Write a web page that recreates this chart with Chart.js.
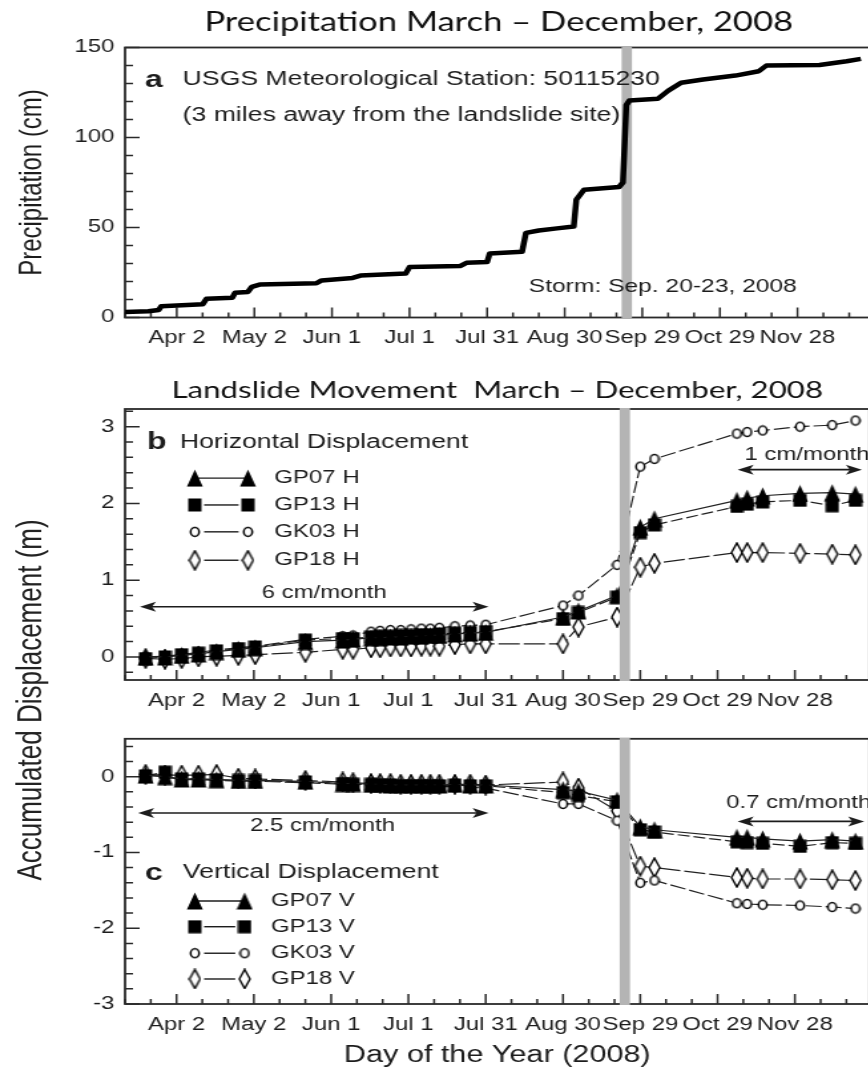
<!DOCTYPE html>
<html lang="en">
<head>
<meta charset="UTF-8" />
<title>Precipitation and landslide movement, 2008</title>
<style>
  html, body { margin: 0; padding: 0; background: #fff; overflow: hidden; width: 868px; height: 1069px; }
  /* the source figure is stretched sideways, so draw narrow and widen the whole stage */
  #stage { position: absolute; left: 0; top: 0; width: 660px; height: 1069px; transform: scaleX(1.33); transform-origin: 0 0; }
  #stage canvas { position: absolute; left: 0; }
  #ylabel { position: absolute; left: -177px; top: 684px; width: 400px; height: 32px; line-height: 32px;
            text-align: center; transform: rotate(-90deg); white-space: nowrap;
            font: 26px 'Liberation Sans', Arial, sans-serif; color: #222; }
</style>
<script src="https://cdn.jsdelivr.net/npm/chart.js@4.4.1/dist/chart.umd.min.js"></script>
</head>
<body>
<div id="stage">
  <canvas id="precipChart" width="660" height="360" style="top:0"></canvas>
  <canvas id="horizChart" width="660" height="360" style="top:360px"></canvas>
  <canvas id="vertChart" width="660" height="349" style="top:720px"></canvas>
  <div id="ylabel">Accumulated Displacement (m)</div>
</div>
<script>
// day of year 2008 for the labelled ticks
const tickDays = [93, 123, 153, 183, 213, 243, 273, 303, 333];
const tickLabels = ['Apr 2', 'May 2', 'Jun 1', 'Jul 1', 'Jul 31', 'Aug 30', 'Sep 29', 'Oct 29', 'Nov 28'];
const stormDays = [265, 269];

// cumulative precipitation (cm)
const rainDays = [73, 82, 86, 87, 103, 104.5, 114.5, 115.5, 120.5, 122, 125, 147, 149, 161, 164, 181.5, 183, 202.5, 205, 213,
  214, 226.5, 228, 233, 240, 246.5, 247.5, 250.5, 264, 265.5, 266.8, 268, 279, 283, 288, 296.5, 309, 318, 321, 341.5, 352, 357.5];
const rainTotal = [3, 3.5, 4.2, 6.3, 7.3, 10.4, 11, 13.7, 14.2, 17, 18.3, 19, 20.6, 22, 23.3, 24.4, 28, 28.6, 30.4, 30.8,
  35.6, 36.5, 47, 48.3, 49.5, 50.5, 65.5, 71, 72.5, 75, 118, 120.5, 121.5, 126, 130.4, 132.2, 134.4, 136.8, 140, 140.3, 142.4, 143.7];

// GPS survey days
const gpsDays = [81, 88.5, 95, 101.5, 108.5, 117, 123.5, 143, 157.5, 161.5, 168.5, 172, 176, 180, 184, 188, 191.5, 195, 201, 207, 213,
  243, 249, 264, 273, 278.5, 310.5, 314.5, 320.5, 335, 347.5, 356.5];

// horizontal displacement (m)
const gp07H = [0.0, 0.0, 0.02, 0.04, 0.07, 0.1, 0.12, 0.2, 0.22, 0.23, 0.25, 0.25, 0.26, 0.26, 0.27, 0.27, 0.28, 0.28, 0.3, 0.31, 0.32,
  0.52, 0.60, 0.80, 1.69, 1.80, 2.04, 2.07, 2.10, 2.13, 2.14, 2.12];
const gp13H = [-0.02, 0.0, 0.03, 0.05, 0.08, 0.11, 0.13, 0.22, 0.24, 0.24, 0.26, 0.27, 0.27, 0.28, 0.28, 0.29, 0.29, 0.3, 0.31, 0.32, 0.33,
  0.50, 0.58, 0.78, 1.62, 1.72, 1.96, 1.99, 2.02, 2.04, 1.97, 2.04];
const gk03H = [0.0, 0.01, 0.03, 0.06, 0.09, 0.12, 0.14, 0.23, 0.27, 0.28, 0.33, 0.34, 0.35, 0.35, 0.36, 0.37, 0.37, 0.38, 0.40, 0.41, 0.42,
  0.67, 0.80, 1.20, 2.48, 2.58, 2.91, 2.93, 2.95, 3.00, 3.02, 3.08];
const gp18H = [-0.02, -0.03, -0.02, 0.0, 0.01, 0.02, 0.03, 0.06, 0.10, 0.10, 0.12, 0.12, 0.13, 0.13, 0.13, 0.14, 0.14, 0.14, 0.16, 0.17, 0.17,
  0.17, 0.39, 0.52, 1.17, 1.22, 1.36, 1.36, 1.36, 1.35, 1.34, 1.33];

// vertical displacement (m)
const gp07V = [0.02, 0.0, -0.03, -0.03, -0.04, -0.05, -0.05, -0.06, -0.09, -0.09, -0.1, -0.1, -0.11, -0.11, -0.11, -0.11, -0.11, -0.11, -0.1, -0.11, -0.11,
  -0.17, -0.19, -0.31, -0.66, -0.70, -0.80, -0.80, -0.82, -0.85, -0.83, -0.85];
const gp13V = [0.01, 0.06, -0.03, -0.03, -0.04, -0.05, -0.05, -0.07, -0.09, -0.1, -0.1, -0.11, -0.11, -0.12, -0.12, -0.12, -0.12, -0.12, -0.11, -0.12, -0.12,
  -0.21, -0.25, -0.33, -0.70, -0.73, -0.86, -0.87, -0.88, -0.92, -0.87, -0.88];
const gk03V = [0.02, 0.0, -0.04, -0.04, -0.05, -0.06, -0.06, -0.08, -0.1, -0.1, -0.11, -0.12, -0.12, -0.12, -0.13, -0.13, -0.13, -0.13, -0.13, -0.14, -0.15,
  -0.36, -0.36, -0.58, -1.40, -1.37, -1.67, -1.68, -1.69, -1.70, -1.72, -1.74];
const gp18V = [0.03, 0.02, 0.02, 0.02, 0.03, -0.02, -0.03, -0.05, -0.07, -0.08, -0.09, -0.09, -0.09, -0.1, -0.1, -0.1, -0.1, -0.1, -0.1, -0.1, -0.11,
  -0.07, -0.15, -0.45, -1.18, -1.20, -1.33, -1.34, -1.35, -1.35, -1.36, -1.37];

const sans = "'Liberation Sans', Arial, sans-serif";
const ink = '#1c1c1c';

Chart.defaults.color = ink;
Chart.defaults.font.family = sans;
Chart.defaults.animation = false;

// marker images (tall shapes, the stage stretch widens them)
function marker(kind) {
  const c = document.createElement('canvas');
  const g = c.getContext('2d');
  g.strokeStyle = '#111';
  if (kind === 'triangle') {
    c.width = 13; c.height = 18;
    g.fillStyle = '#000';
    g.beginPath(); g.moveTo(6.5, 0.5); g.lineTo(12.5, 17.5); g.lineTo(0.5, 17.5); g.closePath(); g.fill();
  } else if (kind === 'square') {
    c.width = 11; c.height = 14;
    g.fillStyle = '#000';
    g.fillRect(0.5, 0.5, 10, 13);
  } else if (kind === 'circle') {
    c.width = 9; c.height = 12;
    g.fillStyle = '#fff'; g.lineWidth = 1.5;
    g.beginPath(); g.ellipse(4.5, 6, 3.2, 4.4, 0, 0, Math.PI * 2); g.fill(); g.stroke();
  } else {
    c.width = 10; c.height = 21;
    g.fillStyle = '#fff'; g.lineWidth = 1.4;
    g.beginPath(); g.moveTo(5, 1); g.lineTo(9, 10.5); g.lineTo(5, 20); g.lineTo(1, 10.5); g.closePath(); g.fill(); g.stroke();
  }
  return c;
}
const shapes = { triangle: marker('triangle'), square: marker('square'), circle: marker('circle'), diamond: marker('diamond') };

function series(label, vals, shape, dash) {
  return {
    label: label,
    data: gpsDays.map((d, i) => ({ x: d, y: vals[i] })),
    borderColor: '#222',
    borderWidth: 1.2,
    borderDash: dash,
    pointStyle: shapes[shape],
    pointRadius: 5,
    pointHoverRadius: 5,
    tension: 0
  };
}

function dayAxis(height, title) {
  return {
    type: 'linear', min: 73, max: 362,
    grid: { display: false, drawTicks: false },
    border: { display: false },
    afterBuildTicks: s => {
      s.ticks = [];
      for (let d = 73; d <= 362; d += 10) s.ticks.push({ value: d });
    },
    ticks: {
      autoSkip: false, maxRotation: 0, padding: 10, color: ink,
      font: { family: sans, size: 18 },
      callback: v => { const i = tickDays.indexOf(v); return i >= 0 ? tickLabels[i] : ''; }
    },
    title: title
      ? { display: true, text: title, color: ink, font: { family: sans, size: 23 }, padding: { top: 0, bottom: 0 } }
      : { display: false },
    afterFit: s => { s.height = height; }
  };
}

function valueAxis(min, max, step, major, title) {
  return {
    type: 'linear', min: min, max: max,
    grid: { display: false, drawTicks: false },
    border: { display: false },
    afterBuildTicks: s => {
      s.ticks = [];
      for (let k = Math.ceil(min / step - 1e-6); k * step <= max + 1e-6; k++) s.ticks.push({ value: +(k * step).toFixed(2) });
    },
    ticks: {
      autoSkip: false, padding: 8, color: ink,
      font: { family: sans, size: 18 },
      callback: v => Math.abs(v / major - Math.round(v / major)) < 1e-6 ? String(Math.round(v)) : ''
    },
    title: title
      ? { display: true, text: title, color: ink, font: { family: sans, size: 24 }, padding: { top: 10, bottom: 0 } }
      : { display: false },
    afterFit: s => { s.width = 94; }
  };
}

function drawStorm(chart) {
  const { ctx, chartArea: a, scales: { x } } = chart;
  const x1 = x.getPixelForValue(stormDays[0]);
  const x2 = x.getPixelForValue(stormDays[1]);
  ctx.save();
  ctx.fillStyle = '#b4b4b4';
  ctx.fillRect(x1, a.top - 1, x2 - x1, a.bottom - a.top + 2);
  ctx.restore();
}

// box round the plot, inward ticks, storm band
const framePlugin = {
  id: 'frame',
  beforeDatasetsDraw(chart, args, opts) {
    const { ctx, chartArea: a, scales: { x, y } } = chart;
    ctx.save();
    ctx.strokeStyle = '#2a2a2a';
    ctx.lineWidth = 1.8;
    ctx.strokeRect(a.left, a.top, a.right - a.left, a.bottom - a.top);
    ctx.lineWidth = 1.5;
    ctx.beginPath();
    x.ticks.forEach(t => {
      const px = x.getPixelForValue(t.value);
      ctx.moveTo(px, a.bottom);
      ctx.lineTo(px, a.bottom - (t.label ? 10 : 5));
    });
    y.ticks.forEach(t => {
      const py = y.getPixelForValue(t.value);
      ctx.moveTo(a.left, py);
      ctx.lineTo(a.left + (t.label ? 11 : 6), py);
    });
    ctx.stroke();
    ctx.restore();
    if (opts.bandUnder) drawStorm(chart);
  },
  afterDatasetsDraw(chart, args, opts) {
    if (!opts.bandUnder) drawStorm(chart);
  }
};

// panel letters, notes, rate arrows and the marker legend
const notesPlugin = {
  id: 'notes',
  afterDraw(chart, args, opts) {
    const { ctx, scales: { x, y } } = chart;
    ctx.save();
    ctx.fillStyle = ink;
    ctx.strokeStyle = ink;
    ctx.textBaseline = 'middle';
    (opts.texts || []).forEach(t => {
      ctx.font = `${t.weight || 'normal'} ${t.size}px ${sans}`;
      ctx.textAlign = t.align || 'left';
      ctx.fillText(t.text, x.getPixelForValue(t.x), y.getPixelForValue(t.y));
    });
    (opts.arrows || []).forEach(r => {
      const x1 = x.getPixelForValue(r.x1), x2 = x.getPixelForValue(r.x2), py = y.getPixelForValue(r.y);
      ctx.lineWidth = 1.6;
      ctx.beginPath(); ctx.moveTo(x1 + 4, py); ctx.lineTo(x2 - 4, py); ctx.stroke();
      [[x1, 1], [x2, -1]].forEach(([hx, dir]) => {
        ctx.beginPath();
        ctx.moveTo(hx, py);
        ctx.lineTo(hx + dir * 12, py - 5);
        ctx.lineTo(hx + dir * 9, py);
        ctx.lineTo(hx + dir * 12, py + 5);
        ctx.closePath();
        ctx.fill();
      });
    });
    const lg = opts.legend;
    if (lg) {
      ctx.font = `${lg.size}px ${sans}`;
      ctx.textAlign = 'left';
      chart.data.datasets.forEach((ds, i) => {
        const py = y.getPixelForValue(lg.rows[i]);
        const x1 = x.getPixelForValue(lg.x1), x2 = x.getPixelForValue(lg.x2);
        const gap = i === 0 ? 0 : 7;
        ctx.lineWidth = 1.4;
        ctx.beginPath(); ctx.moveTo(x1 + gap, py); ctx.lineTo(x2 - gap, py); ctx.stroke();
        [x1, x2].forEach(px => {
          const img = ds.pointStyle;
          ctx.drawImage(img, px - img.width / 2, py - img.height / 2);
        });
        ctx.fillText(ds.label, x.getPixelForValue(lg.xText), py);
      });
    }
    ctx.restore();
  }
};

// a: precipitation
new Chart(document.getElementById('precipChart'), {
  type: 'line',
  data: {
    datasets: [{
      label: 'Precipitation',
      data: rainDays.map((d, i) => ({ x: d, y: rainTotal[i] })),
      borderColor: '#000',
      borderWidth: 4.5,
      borderJoinStyle: 'round',
      pointRadius: 0,
      tension: 0
    }]
  },
  options: {
    responsive: false,
    layout: { padding: { top: 0, left: 0, right: 4, bottom: 0 } },
    scales: {
      x: dayAxis(42.5),
      y: valueAxis(0, 150, 10, 50, 'Precipitation (cm)')
    },
    plugins: {
      legend: { display: false },
      tooltip: { enabled: false },
      title: {
        display: true, fullSize: false, text: 'Precipitation March \u2013 December, 2008', color: '#111',
        font: { family: 'Lato', size: 26, weight: 'normal' }, padding: { top: 7, bottom: 9.3 }
      },
      frame: { bandUnder: true },
      notes: {
        texts: [
          { x: 80.7, y: 132, text: 'a', size: 24, weight: 'bold' },
          { x: 95.3, y: 132, text: 'USGS Meteorological Station: 50115230', size: 20 },
          { x: 95.3, y: 112.5, text: '(3 miles away from the landslide site)', size: 20 },
          { x: 229.1, y: 17.1, text: 'Storm: Sep. 20-23, 2008', size: 18.5 }
        ]
      }
    }
  },
  plugins: [framePlugin, notesPlugin]
});

// b: horizontal displacement
new Chart(document.getElementById('horizChart'), {
  type: 'line',
  data: {
    datasets: [
      series('GP07 H', gp07H, 'triangle', []),
      series('GP13 H', gp13H, 'square', [9, 3]),
      series('GK03 H', gk03H, 'circle', [12, 3]),
      series('GP18 H', gp18H, 'diamond', [16, 3])
    ]
  },
  options: {
    responsive: false,
    layout: { padding: { top: 0, left: 0, right: 4, bottom: 0 } },
    scales: {
      x: dayAxis(40),
      y: valueAxis(-0.3, 3.23, 0.2, 1, null)
    },
    plugins: {
      legend: { display: false },
      tooltip: { enabled: false },
      title: {
        display: true, fullSize: false, text: 'Landslide Movement  March \u2013 December, 2008', color: '#111',
        font: { family: 'Lato', size: 23.5, weight: 'normal' }, padding: { top: 16.4, bottom: 4.4 }
      },
      frame: { bandUnder: false },
      notes: {
        texts: [
          { x: 81.5, y: 2.79, text: 'b', size: 24, weight: 'bold' },
          { x: 94.3, y: 2.79, text: 'Horizontal Displacement', size: 20 },
          { x: 150.3, y: 0.83, text: '6 cm/month', size: 18, align: 'center' },
          { x: 313.4, y: 2.63, text: '1 cm/month', size: 18 }
        ],
        arrows: [{ x1: 78.8, x2: 214.1, y: 0.655 }, { x1: 310.8, x2: 359, y: 2.44 }],
        legend: { x1: 100.1, x2: 120.7, xText: 131, rows: [2.33, 1.98, 1.63, 1.26], size: 18 }
      }
    }
  },
  plugins: [framePlugin, notesPlugin]
});

// c: vertical displacement
new Chart(document.getElementById('vertChart'), {
  type: 'line',
  data: {
    datasets: [
      series('GP07 V', gp07V, 'triangle', []),
      series('GP13 V', gp13V, 'square', [9, 3]),
      series('GK03 V', gk03V, 'circle', [12, 3]),
      series('GP18 V', gp18V, 'diamond', [16, 3])
    ]
  },
  options: {
    responsive: false,
    layout: { padding: { top: 12, left: 0, right: 4, bottom: 0 } },
    scales: {
      x: dayAxis(65, 'Day of the Year (2008)'),
      y: valueAxis(-3, 0.5, 0.2, 1, null)
    },
    plugins: {
      legend: { display: false },
      tooltip: { enabled: false },
      frame: { bandUnder: false },
      notes: {
        texts: [
          { x: 80.7, y: -1.27, text: 'c', size: 24, weight: 'bold' },
          { x: 95.5, y: -1.27, text: 'Vertical Displacement', size: 20 },
          { x: 149.7, y: -0.65, text: '2.5 cm/month', size: 18, align: 'center' },
          { x: 306.3, y: -0.35, text: '0.7 cm/month', size: 18 }
        ],
        arrows: [{ x1: 78.1, x2: 214.1, y: -0.48 }, { x1: 310.8, x2: 359.9, y: -0.59 }],
        legend: { x1: 100.1, x2: 119.4, xText: 129.7, rows: [-1.64, -1.98, -2.33, -2.67], size: 18 }
      }
    }
  },
  plugins: [framePlugin, notesPlugin]
});
</script>
</body>
</html>
